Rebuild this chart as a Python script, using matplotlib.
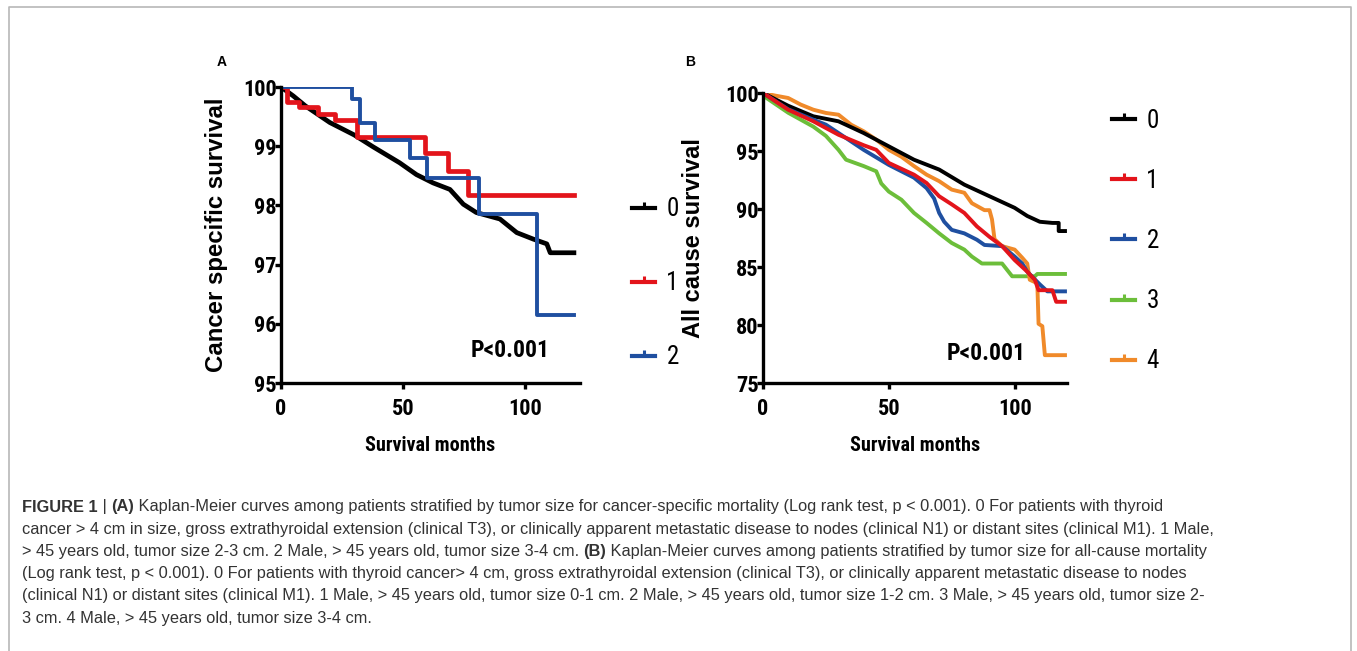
import matplotlib
matplotlib.use("Agg")
import matplotlib.pyplot as plt
from matplotlib.lines import Line2D

a0_t = [0, 5, 10, 20, 30, 37.7, 48.6, 55.5, 62.3, 69.2, 74.7, 80, 89.7, 96.6, 103.4, 108.9, 110.3, 120]
a0_s = [100, 99.85, 99.68, 99.4, 99.19, 98.99, 98.72, 98.52, 98.38, 98.27, 98.02, 97.88, 97.77, 97.54, 97.43, 97.35, 97.2, 97.2]
a1_t = [0, 2.5, 7.5, 15, 22, 31, 59, 68.5, 76.7, 120]
a1_s = [100, 99.75, 99.67, 99.55, 99.45, 99.15, 98.88, 98.58, 98.17, 98.17]
a2_t = [0, 29.2, 32.5, 38.6, 53, 60, 81.2, 105, 120]
a2_s = [100, 99.8, 99.4, 99.1, 98.8, 98.47, 97.85, 96.15, 96.15]

b0_t = [0, 10, 20, 30, 40, 50, 60, 70, 80, 90, 100, 105, 110, 115, 117.5, 117.5, 120]
b0_s = [100, 98.9, 97.99, 97.56, 96.55, 95.4, 94.25, 93.4, 92.1, 91.1, 90.1, 89.4, 88.9, 88.8, 88.8, 88.1, 88.1]
b1_t = [0, 10, 20, 30, 40, 45, 50, 60, 65, 70, 75, 80, 85, 90, 95, 100, 105, 108, 109.5, 115, 116.5, 120]
b1_s = [100, 98.56, 97.56, 96.4, 95.5, 95.1, 93.97, 92.96, 92.24, 91.1, 90.4, 89.66, 88.5, 87.6, 86.8, 85.6, 84.6, 83.9, 83.0, 83.0, 82.0, 82.0]
b2_t = [0, 10, 20, 25, 30, 40, 50, 60, 65, 68, 70, 72, 75, 80, 85, 88, 95, 100, 103, 105, 110, 113, 120]
b2_s = [100, 98.6, 97.7, 97.27, 96.55, 95.1, 93.8, 92.7, 91.8, 90.9, 89.66, 88.9, 88.2, 87.9, 87.35, 86.9, 86.8, 85.9, 85.3, 84.6, 83.5, 82.9, 82.9]
b3_t = [0, 0.5, 10, 20, 25, 30, 33, 40, 45, 47, 50, 55, 60, 65, 70, 75, 80, 83, 87, 95, 99, 108, 109, 120]
b3_s = [100, 99.7, 98.3, 97.1, 96.3, 95.1, 94.25, 93.7, 93.25, 92.2, 91.5, 90.8, 89.66, 88.8, 87.9, 87.07, 86.5, 85.9, 85.3, 85.3, 84.2, 84.2, 84.4, 84.4]
b4_t = [0, 5, 10, 15, 20, 25, 30, 35, 40, 45, 50, 55, 60, 65, 70, 75, 80, 83, 88, 90, 91, 92, 95, 100, 103, 105, 106, 109, 109.5, 111, 112, 120]
b4_s = [100, 99.77, 99.57, 99.0, 98.56, 98.28, 98.13, 97.27, 96.7, 95.98, 95.1, 94.5, 93.7, 92.96, 92.4, 91.67, 91.4, 90.5, 89.9, 89.9, 89.1, 87.4, 86.8, 86.5, 85.8, 85.3, 83.9, 83.6, 80.1, 79.9, 77.4, 77.4]

groups_a = ["0", "1", "2"]
groups_b = ["0", "1", "2", "3", "4"]
colors = ["#000000", "#e3141b", "#1f4fa0", "#6cbe3a", "#f08a2a"]

caption = [
    [("FIGURE 1", "bold"), (" | ", "normal"), ("(A)", "bold"),
     (" Kaplan-Meier curves among patients stratified by tumor size for cancer-specific mortality (Log rank test, p < 0.001). 0 For patients with thyroid", "normal")],
    [("cancer > 4 cm in size, gross extrathyroidal extension (clinical T3), or clinically apparent metastatic disease to nodes (clinical N1) or distant sites (clinical M1). 1 Male,", "normal")],
    [("> 45 years old, tumor size 2-3 cm. 2 Male, > 45 years old, tumor size 3-4 cm. ", "normal"), ("(B)", "bold"),
     (" Kaplan-Meier curves among patients stratified by tumor size for all-cause mortality", "normal")],
    [("(Log rank test, p < 0.001). 0 For patients with thyroid cancer> 4 cm, gross extrathyroidal extension (clinical T3), or clinically apparent metastatic disease to nodes", "normal")],
    [("(clinical N1) or distant sites (clinical M1). 1 Male, > 45 years old, tumor size 0-1 cm. 2 Male, > 45 years old, tumor size 1-2 cm. 3 Male, > 45 years old, tumor size 2-", "normal")],
    [("3 cm. 4 Male, > 45 years old, tumor size 3-4 cm.", "normal")],
]

W, H = 1357, 651
NARROW = ["Roboto Condensed", "Liberation Sans", "DejaVu Sans"]
ARIAL = ["Liberation Sans", "DejaVu Sans"]

fig = plt.figure(figsize=(W / 100, H / 100), dpi=100)


def fx(x):
    return x / W


def fy(y):
    return 1 - y / H


def style_axes(ax, ylim, yticks, xlim):
    ax.set_xlim(*xlim)
    ax.set_ylim(*ylim)
    ax.set_xticks([0, 50, 100])
    ax.set_yticks(yticks)
    for s in ["top", "right"]:
        ax.spines[s].set_visible(False)
    for s in ["left", "bottom"]:
        ax.spines[s].set_linewidth(2.4)
    ax.tick_params(direction="out", length=4.5, width=2.4)
    ax.tick_params(axis="x", pad=6)
    ax.tick_params(axis="y", pad=-1.5)
    for lab in ax.get_xticklabels() + ax.get_yticklabels():
        lab.set_family(NARROW)
        lab.set_fontsize(16)
        lab.set_fontweight("bold")
    ax.set_xlabel("Survival months", family=NARROW, fontsize=14.5, fontweight="bold", labelpad=12)


tick = [(0, 0), (0, 1)]


def legend(ax, labels, x, y, spacing):
    handles = [Line2D([], [], color=colors[i], lw=3, marker=tick, markersize=9, markeredgewidth=2.2)
               for i in range(len(labels))]
    ax.legend(handles, labels, loc="upper left", bbox_to_anchor=(fx(x), fy(y)),
              bbox_transform=fig.transFigure, frameon=False, borderpad=0, borderaxespad=0,
              handlelength=0.93, handletextpad=0.45, labelspacing=spacing,
              prop={"family": NARROW, "size": 18})


# panel A
axA = fig.add_axes([fx(281), fy(383), (580 - 281) / W, (383 - 87) / H])
axA.plot(a0_t, a0_s, color=colors[0], lw=3.4)
axA.plot(a1_t, a1_s, color=colors[1], lw=3.4, drawstyle="steps-post")
axA.plot(a2_t, a2_s, color=colors[2], lw=2.8, drawstyle="steps-post")
style_axes(axA, (95, 100), [95, 96, 97, 98, 99, 100], (0, 122.5))
axA.set_ylabel("Cancer specific survival", family=ARIAL, fontsize=17.3, fontweight="bold")
axA.yaxis.set_label_coords(-0.177, 0.5)
axA.text(0.766, 0.111, "P<0.001", transform=axA.transAxes, ha="center", va="center",
         family=NARROW, fontsize=17, fontweight="bold")
legend(axA, groups_a, 632, 197.5, 2.0)

# panel B
axB = fig.add_axes([fx(763), fy(383), (1067 - 763) / W, (383 - 93) / H])
axB.plot(b3_t, b3_s, color=colors[3], lw=2.8)
axB.plot(b4_t, b4_s, color=colors[4], lw=2.8)
axB.plot(b0_t, b0_s, color=colors[0], lw=2.8)
axB.plot(b2_t, b2_s, color=colors[2], lw=2.8)
axB.plot(b1_t, b1_s, color=colors[1], lw=2.8)
style_axes(axB, (75, 100), [75, 80, 85, 90, 95, 100], (0, 120.8))
axB.set_ylabel("All cause survival", family=ARIAL, fontsize=17, fontweight="bold")
axB.yaxis.set_label_coords(-0.19, 0.5)
axB.text(0.734, 0.103, "P<0.001", transform=axB.transAxes, ha="center", va="center",
         family=NARROW, fontsize=17, fontweight="bold")
legend(axB, groups_b, 1112, 108.5, 1.45)

fig.text(fx(222), fy(62), "A", ha="center", va="center", family=ARIAL, fontsize=10, fontweight="bold")
fig.text(fx(690), fy(62), "B", ha="center", va="center", family=ARIAL, fontsize=10, fontweight="bold")

# frame around figure (bottom edge is cut off)
fig.add_artist(Line2D([fx(9), fx(9), fx(1351), fx(1351)], [0, fy(7), fy(7), 0],
                      transform=fig.transFigure, color="#b8b8b8", lw=1.2))

# caption, laid out piece by piece so the bold parts sit inline
renderer = fig.canvas.get_renderer()


def layout(fs):
    texts = []
    width4 = 0
    for k, line in enumerate(caption):
        x = 22
        y = 507 + k * 22.2
        for seg, wt in line:
            t = fig.text(fx(x), fy(y), seg, ha="left", va="center", family=ARIAL,
                         fontsize=fs, fontweight=wt, color="#333333")
            bb = t.get_window_extent(renderer)
            x += bb.width
            texts.append(t)
        if k == 3:
            width4 = x - 22
    return texts, width4


texts, w4 = layout(12)
for t in texts:
    t.remove()
texts, w4 = layout(12 * 1167 / w4)

fig.savefig("out.png", dpi=100)
